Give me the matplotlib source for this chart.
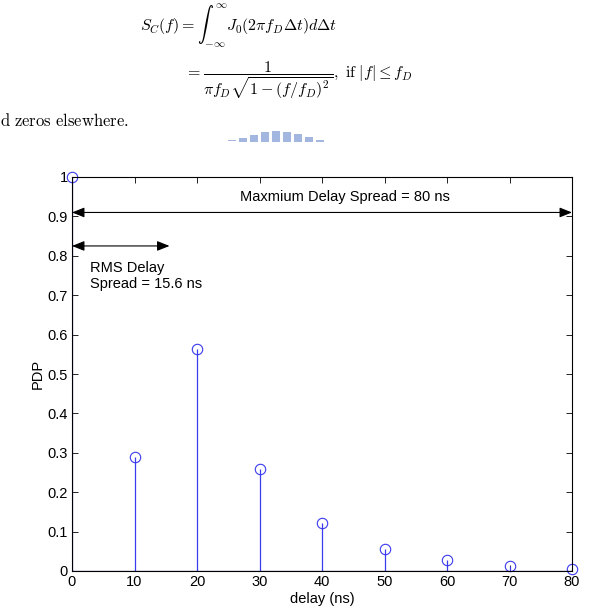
import matplotlib
matplotlib.use("Agg")
import matplotlib.pyplot as plt
from matplotlib.patches import Rectangle

plt.rcParams["font.family"] = ["Liberation Sans", "DejaVu Sans"]
plt.rcParams["mathtext.fontset"] = "cm"

# ==== Dados ====
delay = [0, 10, 20, 30, 40, 50, 60, 70, 80]
pdp = [1.0, 0.289, 0.563, 0.259, 0.121, 0.055, 0.027, 0.0135, 0.006]
xticks = [0, 10, 20, 30, 40, 50, 60, 70, 80]
yticks = [0, 0.1, 0.2, 0.3, 0.4, 0.5, 0.6, 0.7, 0.8, 0.9, 1.0]
ytick_labels = ["0", "0.1", "0.2", "0.3", "0.4", "0.5", "0.6", "0.7", "0.8", "0.9", "1"]
max_spread = 80
rms_spread = 15.6

W, H = 590, 616
fig = plt.figure(figsize=(W / 100, H / 100), dpi=100)

# ==== Texto da página (equação) ====
fig.text(140 / W, 1 - 26 / H, r"$S_C(f) = \int_{-\infty}^{\infty} J_0(2\pi f_D \Delta t) d\Delta t$",
         fontsize=11.5, ha="left", va="center")
fig.text(185 / W, 1 - 80 / H,
         r"$= \dfrac{1}{\pi f_D\sqrt{1-(f/f_D)^2}},\ \mathrm{if}\ |f| \leq f_D$",
         fontsize=11.5, ha="left", va="center")
fig.text(0, 1 - 120 / H, r"$\mathrm{d\ zeros\ elsewhere.}$", fontsize=12, ha="left", va="center")

# marca d'água (logo cortado)
wm_h = [1, 4, 7, 10, 11, 10, 8, 5, 2]
wm_y = [140, 138, 135, 132, 131, 132, 134, 137, 140]
for i, (h, yb) in enumerate(zip(wm_h, wm_y)):
    x0 = 228 + i * 11
    fig.patches.append(Rectangle((x0 / W, 1 - (yb + h) / H + h / H - h / H), 8 / W, h / H,
                                 transform=fig.transFigure, color="#a3b6df", lw=0))

# ==== Gráfico ====
ax = fig.add_axes([72 / W, 1 - 571 / H, 500 / W, 394 / H])
markerline, stemlines, baseline = ax.stem(delay, pdp)
plt.setp(markerline, marker="o", markersize=7.5, markerfacecolor="none",
         markeredgecolor="#3a3aee", markeredgewidth=0.8, clip_on=False)
plt.setp(stemlines, color="#3a3aee", linewidth=0.9)
plt.setp(baseline, color="#1a1a80", linewidth=0.9)

ax.set_xlim(0, 80)
ax.set_ylim(0, 1)
ax.set_xticks(xticks)
ax.set_yticks(yticks)
ax.set_yticklabels(ytick_labels)
ax.tick_params(direction="in", length=4, width=0.6, top=True, right=True, labelsize=10.5, pad=3)
for s in ax.spines.values():
    s.set_linewidth(0.8)

ax.set_xlabel("delay (ns)", fontsize=10.5, labelpad=2)
ax.set_ylabel("PDP", fontsize=10.5, labelpad=2)

arrow = dict(arrowstyle="<|-|>,head_length=0.75,head_width=0.3", color="black",
             lw=0.8, shrinkA=0, shrinkB=0)
ax.annotate("", xy=(0, 0.91), xytext=(max_spread, 0.91), arrowprops=arrow, annotation_clip=False)
ax.annotate("", xy=(0, 0.825), xytext=(rms_spread, 0.825), arrowprops=arrow, annotation_clip=False)

ax.text(26.9, 0.949, "Maxmium Delay Spread = 80 ns", fontsize=10.5, ha="left", va="center")
ax.text(2.9, 0.748, "RMS Delay\nSpread = 15.6 ns", fontsize=10.5, ha="left", va="center",
        linespacing=1.15)

fig.savefig("out.png", dpi=100)
